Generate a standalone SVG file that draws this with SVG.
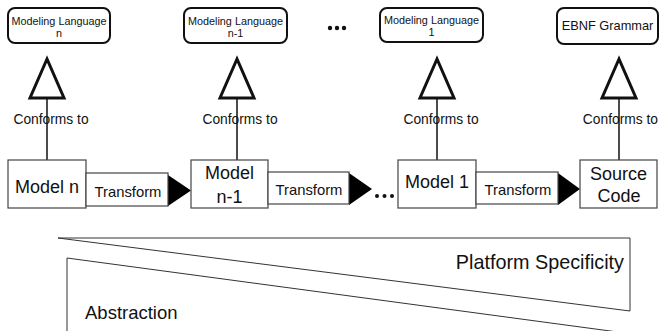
<svg xmlns="http://www.w3.org/2000/svg" width="660" height="331" viewBox="0 0 660 331">
<style>
text{font-family:"Liberation Sans",Arial,sans-serif;fill:#111}
.lang{fill:#fff;stroke:#111;stroke-width:2}
.box{fill:#fff;stroke:#444;stroke-width:1.2}
.tri{fill:#fff;stroke:#111;stroke-width:3;stroke-linejoin:miter}
.conn{stroke:#111;stroke-width:1.5;fill:none}
.arrow{fill:#000}
.ml{font-size:10.8px}
.cf{font-size:13.8px}
.mdl{font-size:18px}
.tf{font-size:14.8px}
.thin{fill:none;stroke:#333;stroke-width:1}
</style>
<rect width="660" height="331" fill="#fff"/>
<g id="connectors">
<line class="conn" x1="47" y1="98" x2="47" y2="160"/>
<line class="conn" x1="237" y1="98" x2="237" y2="160"/>
<line class="conn" x1="437" y1="98" x2="437" y2="160"/>
<line class="conn" x1="619" y1="98" x2="619" y2="160"/>
<polygon class="tri" points="47,59 30,98 64,98"/>
<polygon class="tri" points="237,59 220,98 254,98"/>
<polygon class="tri" points="437,59 420,98 454,98"/>
<polygon class="tri" points="619,59 602,98 636,98"/>
<text class="cf" x="51" y="124" text-anchor="middle">Conforms to</text>
<text class="cf" x="240" y="124" text-anchor="middle">Conforms to</text>
<text class="cf" x="441" y="124" text-anchor="middle">Conforms to</text>
<text class="cf" x="658" y="124" text-anchor="end">Conforms to</text>
<polygon class="arrow" points="168,175 191,190.5 168,206"/>
<polygon class="arrow" points="349,173 372,189 349,205"/>
<polygon class="arrow" points="558,173 580,189 558,205"/>
</g>
<g id="lang-n">
<rect class="lang" x="8" y="8" width="102" height="35" rx="7"/>
<text class="ml" x="59" y="25" text-anchor="middle">Modeling Language</text>
<text class="ml" x="59" y="37" text-anchor="middle">n</text>
</g>
<g id="lang-n-1">
<rect class="lang" x="184" y="8" width="103" height="35" rx="7"/>
<text class="ml" x="235.5" y="25" text-anchor="middle">Modeling Language</text>
<text class="ml" x="235.5" y="37" text-anchor="middle">n-1</text>
</g>
<g id="dots-top">
<circle cx="330" cy="28" r="2.2" fill="#111"/>
<circle cx="337" cy="28" r="2.2" fill="#111"/>
<circle cx="344" cy="28" r="2.2" fill="#111"/>
</g>
<g id="lang-1">
<rect class="lang" x="380" y="8" width="103" height="34" rx="7"/>
<text class="ml" x="431.5" y="24" text-anchor="middle">Modeling Language</text>
<text class="ml" x="431.5" y="36" text-anchor="middle">1</text>
</g>
<g id="ebnf">
<rect class="lang" x="557" y="8" width="101" height="36" rx="7"/>
<text x="607.5" y="30" text-anchor="middle" font-size="12.8">EBNF Grammar</text>
</g>
<g id="model-n">
<rect class="box" x="8" y="160" width="78" height="48"/>
<text class="mdl" x="47" y="193" text-anchor="middle">Model n</text>
</g>
<g id="transform-1">
<rect class="box" x="86" y="173" width="82" height="33"/>
<text class="tf" x="128" y="197" text-anchor="middle">Transform</text>
</g>
<g id="model-n-1">
<rect class="box" x="191" y="160" width="77" height="48"/>
<text class="mdl" x="229.5" y="179" text-anchor="middle">Model</text>
<text class="mdl" x="229.5" y="203" text-anchor="middle">n-1</text>
</g>
<g id="transform-2">
<rect class="box" x="268" y="172" width="81" height="32"/>
<text class="tf" x="309" y="195" text-anchor="middle">Transform</text>
</g>
<g id="dots-bottom">
<circle cx="377" cy="196" r="2" fill="#111"/>
<circle cx="384.5" cy="196" r="2" fill="#111"/>
<circle cx="392" cy="196" r="2" fill="#111"/>
</g>
<g id="model-1">
<rect class="box" x="398" y="160" width="78" height="48"/>
<text class="mdl" x="437" y="188" text-anchor="middle">Model 1</text>
</g>
<g id="transform-3">
<rect class="box" x="476" y="172" width="82" height="32"/>
<text class="tf" x="518" y="195" text-anchor="middle">Transform</text>
</g>
<g id="source-code">
<rect class="box" x="580" y="160" width="77" height="48"/>
<text class="mdl" x="618.5" y="180" text-anchor="middle">Source</text>
<text class="mdl" x="619" y="202" text-anchor="middle">Code</text>
</g>
<g id="platform-specificity">
<polygon class="thin" points="58,238 630,238 630,311"/>
<text x="624" y="269" text-anchor="end" font-size="19.8">Platform Specificity</text>
</g>
<g id="abstraction">
<polyline class="thin" points="67,340 67,258 640,335"/>
<text x="85" y="319" font-size="18.5">Abstraction</text>
</g>
</svg>
